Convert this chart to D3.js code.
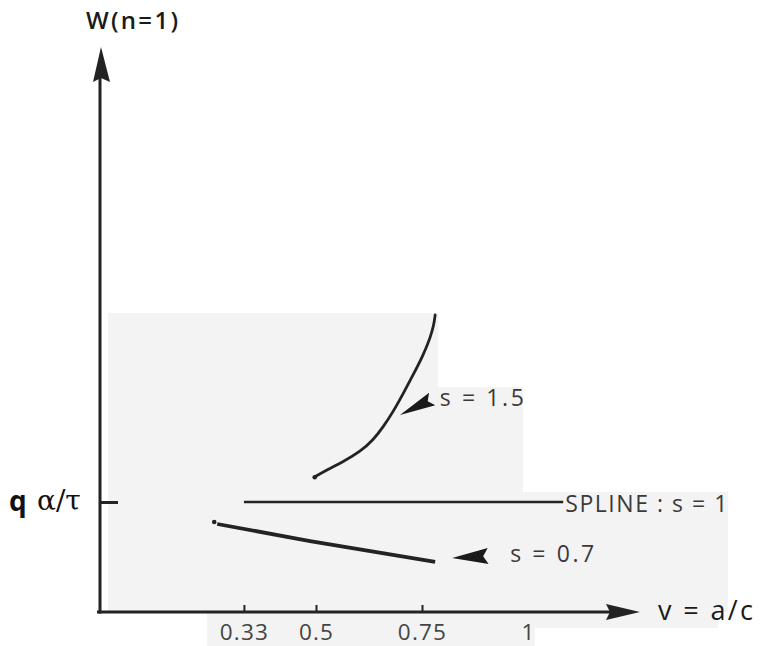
<!DOCTYPE html>
<html>
<head>
<meta charset="utf-8">
<script src="https://cdn.jsdelivr.net/npm/d3@7"></script>
<style>
  body { margin: 0; background: #fff; }
  svg { display: block; }
</style>
</head>
<body>
<svg id="chart" width="763" height="646"></svg>
<script>
// values (v = a/c on x, W in units of q alpha/tau on y)
const tickLabelsV = [0.33, 0.5, 0.75, 1];
const tickMarksV = [0.33, 0.5, 0.75];
const levelW = [1];

const s15V = [0.498, 0.525, 0.564, 0.604, 0.635, 0.659, 0.682, 0.706, 0.729, 0.753, 0.769, 0.778, 0.781];
const s15W = [1.23, 1.291, 1.366, 1.457, 1.564, 1.685, 1.821, 1.988, 2.155, 2.336, 2.488, 2.609, 2.7];

const s07V = [0.267, 0.486, 0.781];
const s07W = [0.8, 0.645, 0.455];

const splineV = [0.33, 1.083];
const splineW = [1, 1];

const dotV = [0.497, 0.26];
const dotW = [1.225, 0.818];

const labelText = ["s = 1.5", "SPLINE : s = 1", "s = 0.7"];
const labelV = [0.792, 1.088, 0.958];
const labelW = [1.873, 0.909, 0.455];

const pointerTipV = [0.698, 0.821];
const pointerTipW = [1.791, 0.491];
const pointerBaseV = [0.774, 0.906];
const pointerBaseW = [1.936, 0.509];

const svg = d3.select("#chart");

const x = d3.scaleLinear().domain([0, 1]).range([104, 528]);
const y = d3.scaleLinear().domain([0, 1]).range([612, 502]);

const ink = "#232323";

// light grey scan patches behind the plot
const patches = [
  [108, 313, 330, 299],
  [438, 387, 85, 105],
  [108, 492, 620, 120],
  [207, 612, 511, 16],
  [207, 628, 328, 18]
];
svg.selectAll("rect.patch")
  .data(patches)
  .join("rect")
  .attr("class", "patch")
  .attr("x", d => d[0])
  .attr("y", d => d[1])
  .attr("width", d => d[2])
  .attr("height", d => d[3])
  .attr("fill", "#f3f3f3");

// x axis
const xAxis = svg.append("g")
  .attr("transform", `translate(0,${y(0)})`)
  .call(d3.axisBottom(x)
    .tickValues(tickLabelsV)
    .tickSizeInner(-7)
    .tickSizeOuter(0)
    .tickPadding(12)
    .tickFormat(d => String(d)));
xAxis.select(".domain").remove();
xAxis.selectAll(".tick line")
  .attr("stroke", ink)
  .attr("stroke-width", 2)
  .attr("display", d => tickMarksV.includes(d) ? null : "none");
xAxis.selectAll(".tick text")
  .attr("fill", "#444")
  .attr("font-family", "'Open Sans', sans-serif")
  .attr("font-size", 22.5)
  .attr("letter-spacing", 1.2);

svg.append("line")
  .attr("x1", 97)
  .attr("y1", y(0))
  .attr("x2", 612)
  .attr("y2", y(0))
  .attr("stroke", ink)
  .attr("stroke-width", 3);
svg.append("path")
  .attr("d", `M640,${y(0)} L606,${y(0) - 8} L610,${y(0)} L606,${y(0) + 8} Z`)
  .attr("fill", ink);

// y axis
const yAxis = svg.append("g")
  .attr("transform", "translate(100,0)")
  .call(d3.axisRight(y).tickValues(levelW).tickSize(18).tickFormat(""));
yAxis.select(".domain").remove();
yAxis.selectAll(".tick line").attr("stroke", ink).attr("stroke-width", 3);

svg.append("line")
  .attr("x1", 100)
  .attr("y1", y(0) + 1.5)
  .attr("x2", 100)
  .attr("y2", 78)
  .attr("stroke", ink)
  .attr("stroke-width", 3);
svg.append("path")
  .attr("d", "M101,47 L93,82 L101,78 L110,82 Z")
  .attr("fill", ink);

// axis titles
svg.append("text")
  .attr("x", 86)
  .attr("y", 29)
  .attr("font-family", "'Open Sans', sans-serif")
  .attr("font-weight", 600)
  .attr("font-size", 24)
  .attr("textLength", 92)
  .attr("fill", "#1a1a1a")
  .text("W(n=1)");

svg.append("text")
  .attr("x", 9)
  .attr("y", y(1) + 9)
  .attr("font-family", "'Open Sans', sans-serif")
  .attr("font-weight", "bold")
  .attr("font-size", 28)
  .attr("fill", "#111")
  .text("q");
svg.append("text")
  .attr("x", 37)
  .attr("y", y(1) + 8)
  .attr("font-family", "'DejaVu Serif', serif")
  .attr("font-size", 28)
  .attr("fill", "#111")
  .text("α/τ");

svg.append("text")
  .attr("x", 658)
  .attr("y", 620)
  .attr("font-family", "'Open Sans', sans-serif")
  .attr("font-size", 27)
  .attr("textLength", 95)
  .attr("fill", "#1a1a1a")
  .text("v = a/c");

// curves
const line = d3.line()
  .x(d => x(d[0]))
  .y(d => y(d[1]));

svg.append("path")
  .attr("d", line.curve(d3.curveBasis)(d3.zip(s15V, s15W)))
  .attr("fill", "none")
  .attr("stroke", ink)
  .attr("stroke-width", 2.8)
  .attr("stroke-linecap", "round");

svg.append("path")
  .attr("d", line.curve(d3.curveLinear)(d3.zip(splineV, splineW)))
  .attr("fill", "none")
  .attr("stroke", ink)
  .attr("stroke-width", 2.6);

svg.append("path")
  .attr("d", line.curve(d3.curveLinear)(d3.zip(s07V, s07W)))
  .attr("fill", "none")
  .attr("stroke", ink)
  .attr("stroke-width", 3.8);

svg.selectAll("circle.dot")
  .data(d3.zip(dotV, dotW))
  .join("circle")
  .attr("class", "dot")
  .attr("cx", d => x(d[0]))
  .attr("cy", d => y(d[1]))
  .attr("r", 2.3)
  .attr("fill", ink);

// dart shaped pointers
const dart = (tx, ty, bx, by, hw) => {
  const len = Math.hypot(tx - bx, ty - by);
  const ux = (tx - bx) / len, uy = (ty - by) / len;
  const nx = -uy, ny = ux;
  const notch = 5;
  return `M${tx},${ty} L${bx + nx * hw},${by + ny * hw} L${bx + ux * notch},${by + uy * notch} L${bx - nx * hw},${by - ny * hw} Z`;
};

svg.selectAll("path.pointer")
  .data(d3.range(pointerTipV.length))
  .join("path")
  .attr("class", "pointer")
  .attr("d", i => dart(x(pointerTipV[i]), y(pointerTipW[i]), x(pointerBaseV[i]), y(pointerBaseW[i]), i === 0 ? 7 : 8))
  .attr("fill", "#1a1a1a");

const labelWidths = [84, 162, 84];
svg.selectAll("text.curve-label")
  .data(d3.range(labelText.length))
  .join("text")
  .attr("class", "curve-label")
  .attr("x", i => x(labelV[i]))
  .attr("y", i => y(labelW[i]))
  .attr("font-family", "'Open Sans', sans-serif")
  .attr("font-size", 23)
  .attr("textLength", i => labelWidths[i])
  .attr("fill", "#3a3a3a")
  .text(i => labelText[i]);
</script>
</body>
</html>
